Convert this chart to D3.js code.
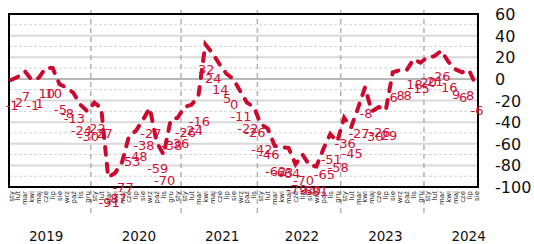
<!DOCTYPE html>
<html>
<head>
<meta charset="utf-8">
<script src="https://cdn.jsdelivr.net/npm/d3@7"></script>
<style>
  html, body { margin: 0; padding: 0; background: #fff; }
  svg { display: block; }
</style>
</head>
<body>
<div id="chart"></div>
<script>
// monthly balance values, Jan 2019 onward
const values = [
  -1, 2, 7, -1, 1, 10, 10, -5, -8, -13, -24, -30,
  -22, -27, -91, -87, -77, -53, -48, -38, -27, -59, -70, -38, -36,
  -26, -24, -16, 32, 24, 14, 5, 0, -11, -22, -26,
  -42, -46, -62, -63, -64, -79, -70, -80, -81, -65, -51, -58,
  -36, -45, -27, -8, -30, -26, -29, 6, 8, 8, 18, 15,
  20, 21, 26, 16, 9, 6, 8, -6
];
const years = ['2019', '2020', '2021', '2022', '2023', '2024'];
const pointsPerYear = [12, 13, 11, 12, 12, 8];
const monthNames = ['sty', 'lut', 'mar', 'kwi', 'maj', 'cze', 'lip', 'sie', 'wrz', 'paź', 'lis', 'gru'];
const yTicks = [60, 40, 20, 0, -20, -40, -60, -80, -100];

const width = 534, height = 244;
const plot = { left: 9, right: 478, top: 14, bottom: 187 };

// month label for every point, restarting each year
const monthLabels = [];
pointsPerYear.forEach(n => {
    for (let i = 0; i < n; i++) monthLabels.push(monthNames[i % 12]);
});

// index of the first point of each year
const yearStartIdx = [];
let acc = 0;
pointsPerYear.forEach(n => { yearStartIdx.push(acc); acc += n; });

const svg = d3.select('#chart').append('svg')
    .attr('width', width)
    .attr('height', height);

const x = d3.scalePoint()
    .domain(d3.range(values.length))
    .range([11, 476]);
const step = x.step();

const y = d3.scaleLinear()
    .domain([-100, 60])
    .range([plot.bottom, plot.top]);

// minor gridlines (every 10)
svg.append('g')
    .selectAll('line')
    .data(d3.range(-90, 60, 20))
    .enter().append('line')
    .attr('x1', plot.left).attr('x2', plot.right)
    .attr('y1', d => y(d)).attr('y2', d => y(d))
    .style('stroke', '#d4d4d4')
    .style('stroke-width', 1)
    .style('stroke-dasharray', '3,2');

// major gridlines (every 20)
svg.append('g')
    .selectAll('line')
    .data(yTicks.filter(d => d > -100 && d < 60))
    .enter().append('line')
    .attr('x1', plot.left).attr('x2', plot.right)
    .attr('y1', d => y(d)).attr('y2', d => y(d))
    .style('stroke', d => d === 0 ? '#b8b8b8' : '#d9d9d9')
    .style('stroke-width', 2);

// year separators
svg.append('g')
    .selectAll('line')
    .data(yearStartIdx.slice(1))
    .enter().append('line')
    .attr('x1', d => x(d) - step / 2).attr('x2', d => x(d) - step / 2)
    .attr('y1', 10).attr('y2', 213)
    .style('stroke', '#b3b3b3')
    .style('stroke-width', 1.5)
    .style('stroke-dasharray', '5,4');

// frame
svg.append('rect')
    .attr('x', plot.left).attr('y', plot.top)
    .attr('width', plot.right - plot.left)
    .attr('height', plot.bottom - plot.top)
    .style('fill', 'none')
    .style('stroke', '#000')
    .style('stroke-width', 2);

// y axis on the right
svg.append('g')
    .selectAll('text')
    .data(yTicks)
    .enter().append('text')
    .attr('x', 495)
    .attr('y', d => y(d) + 6)
    .text(d => d)
    .style('font-family', 'DejaVu Sans, sans-serif')
    .style('font-size', '16px')
    .style('fill', '#111');

// month labels
svg.append('g')
    .selectAll('text')
    .data(monthLabels)
    .enter().append('text')
    .attr('transform', (d, i) => `translate(${x(i) + 2.5},191) rotate(-90)`)
    .attr('text-anchor', 'end')
    .text(d => d)
    .style('font-family', 'DejaVu Sans, sans-serif')
    .style('font-size', '7px')
    .style('fill', '#222');

// year labels, centred on the year's span (a full year for the last one)
svg.append('g')
    .selectAll('text')
    .data(years)
    .enter().append('text')
    .attr('x', (d, i) => {
        const a = x(yearStartIdx[i]) - step / 2;
        const n = i === years.length - 1 ? 12 : pointsPerYear[i];
        return a + n * step / 2 + (i === 0 ? -3 : 3);
    })
    .attr('y', 241)
    .attr('text-anchor', 'middle')
    .text(d => d)
    .style('font-family', 'DejaVu Sans, sans-serif')
    .style('font-size', '13.5px')
    .style('fill', '#111');

// dashed line
const line = d3.line()
    .x((d, i) => x(i))
    .y(d => y(d));

svg.append('path')
    .datum(values)
    .attr('d', line)
    .style('fill', 'none')
    .style('stroke', '#cc0a2f')
    .style('stroke-width', 4)
    .style('stroke-linecap', 'round')
    .style('stroke-dasharray', '8,9');

// value labels below points
svg.append('g')
    .selectAll('text')
    .data(values)
    .enter().append('text')
    .attr('x', (d, i) => x(i) + 1)
    .attr('y', d => y(d) + 30)
    .attr('text-anchor', 'middle')
    .text(d => d)
    .style('font-family', 'DejaVu Sans, sans-serif')
    .style('font-size', '13px')
    .style('fill', '#d0103a');
</script>
</body>
</html>
